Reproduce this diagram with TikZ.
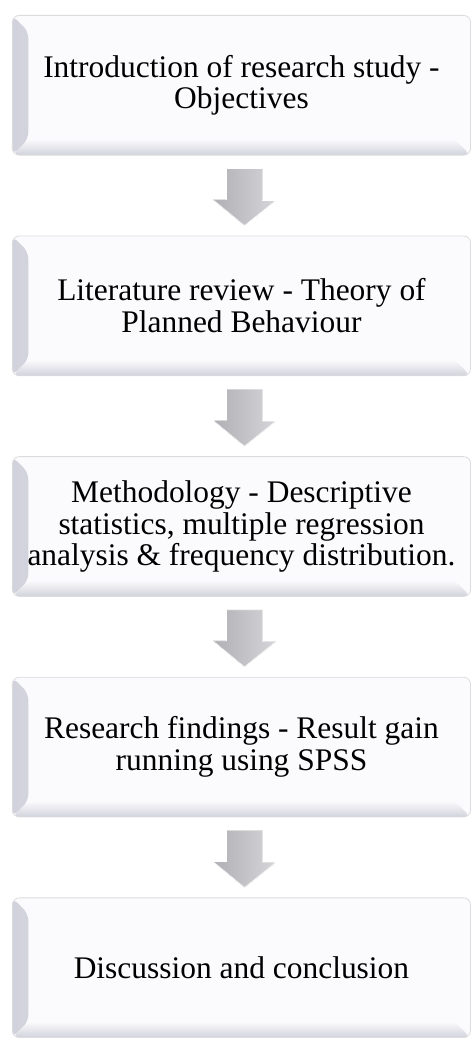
\documentclass[tikz,border=0pt]{standalone}
\usepackage{fontspec}
\setmainfont{Liberation Serif}
\usepackage{xcolor}
\usepackage{tikz}
\usetikzlibrary{shapes.geometric, arrows}
\usetikzlibrary{positioning}
\definecolor{faceWhite}{RGB}{251,251,253}
\definecolor{bevelGray}{RGB}{210,210,220}
\definecolor{edgeGray}{RGB}{220,220,222}
\definecolor{arrowGray}{RGB}{196,196,202}
\tikzstyle{stage} = [
                rectangle,
                rounded corners = 7pt,
                draw = edgeGray,
                line width = 0.8pt,
                fill = faceWhite,
                minimum width = 459pt,
                minimum height = 140pt,
                text width = 440pt,
                align = flush center,
                inner sep = 0pt,
                font = \fontsize{31.5}{32}\selectfont,
                path picture = {
                    \shade [left color = bevelGray, right color = faceWhite]
                        (path picture bounding box.south west) -- (path picture bounding box.north west)
                        -- ([shift = {(16pt,-16pt)}]path picture bounding box.north west)
                        -- ([shift = {(16pt,16pt)}]path picture bounding box.south west) -- cycle;
                    \shade [bottom color = bevelGray, top color = faceWhite]
                        (path picture bounding box.south west) -- (path picture bounding box.south east)
                        -- ([shift = {(-16pt,16pt)}]path picture bounding box.south east)
                        -- ([shift = {(16pt,16pt)}]path picture bounding box.south west) -- cycle;
                }
            ]
\tikzstyle{blockarrow} = [left color = arrowGray!85!black!90, right color = arrowGray!70, draw = white, line width = 0.6pt, line join = miter]

\begin{document}
\begin{tikzpicture}[node distance = 221pt]
                                \node (intro) [stage] {Introduction of research study - Objectives};
                                \node (review) [stage, below of=intro] {Literature review - Theory of Planned Behaviour};
                                \node (method) [stage, below of=review] {Methodology - Descriptive statistics, multiple regression analysis \& frequency distribution.};
                                \node (findings) [stage, below of=method] {Research findings - Result gain running using SPSS};
                                \node (concl) [stage, below of=findings] {Discussion and conclusion};
                                \fill [blockarrow] ([shift = {(-15pt,-13pt)}]intro.south) -- ++(36pt,0) -- ++(0,-32pt) -- ++(13.5pt,0) -- ([shift = {(3pt,10pt)}]review.north) -- ++(-31.5pt,26pt) -- ++(13.5pt,0) -- cycle;
                                \fill [blockarrow] ([shift = {(-15pt,-13pt)}]review.south) -- ++(36pt,0) -- ++(0,-32pt) -- ++(13.5pt,0) -- ([shift = {(3pt,10pt)}]method.north) -- ++(-31.5pt,26pt) -- ++(13.5pt,0) -- cycle;
                                \fill [blockarrow] ([shift = {(-15pt,-13pt)}]method.south) -- ++(36pt,0) -- ++(0,-32pt) -- ++(13.5pt,0) -- ([shift = {(3pt,10pt)}]findings.north) -- ++(-31.5pt,26pt) -- ++(13.5pt,0) -- cycle;
                                \fill [blockarrow] ([shift = {(-15pt,-13pt)}]findings.south) -- ++(36pt,0) -- ++(0,-32pt) -- ++(13.5pt,0) -- ([shift = {(3pt,10pt)}]concl.north) -- ++(-31.5pt,26pt) -- ++(13.5pt,0) -- cycle;
                                \useasboundingbox ([xshift = -12pt, yshift = 15pt]intro.north west) rectangle ([xshift = 1pt, yshift = 1pt]concl.south east);
                            \end{tikzpicture}
\end{document}
